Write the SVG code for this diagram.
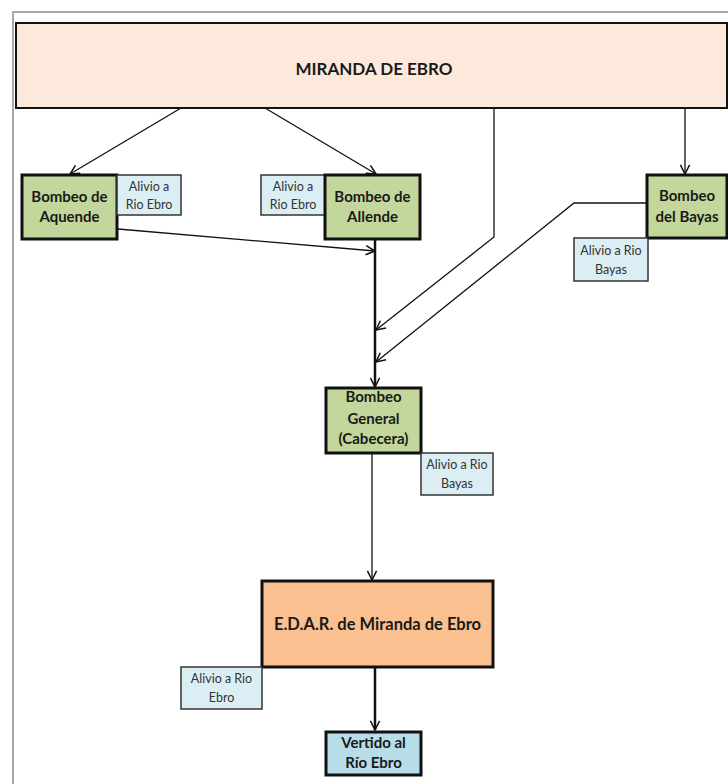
<svg xmlns="http://www.w3.org/2000/svg" width="728" height="784" viewBox="0 0 728 784">
<style>
  text { font-family: Lato, "Open Sans", "Liberation Sans", sans-serif; fill: #1a1a1a; text-anchor: middle; }
  .b { font-weight: bold; font-size: 15px; }
  .s { font-size: 12.5px; fill: #333; }
  .green { fill: #c3d69b; stroke: #111; stroke-width: 3; }
  .alivio { fill: #dbeef4; stroke: #333; stroke-width: 1.5; }
  .c { fill: none; stroke: #111; stroke-width: 1.3; }
  .ct { fill: none; stroke: #111; stroke-width: 2.5; }
</style>
<defs>
  <marker id="ah" viewBox="0 0 12 12" refX="11" refY="6" markerWidth="11" markerHeight="11" markerUnits="userSpaceOnUse" orient="auto">
    <path d="M1,1 L11,6 L1,11" fill="none" stroke="#111" stroke-width="1.6"/>
  </marker>
</defs>
<rect x="0" y="0" width="728" height="784" fill="#fff"/>
<path d="M13,784 V12 H728" fill="none" stroke="#a8a8a8" stroke-width="2"/>

<g id="connectors">
  <line class="c" x1="181" y1="108" x2="70" y2="174" marker-end="url(#ah)"/>
  <line class="c" x1="265" y1="108" x2="376" y2="174" marker-end="url(#ah)"/>
  <line class="c" x1="685" y1="108" x2="685" y2="174" marker-end="url(#ah)"/>
  <polyline class="c" points="494,108 494,237 376,330" marker-end="url(#ah)"/>
  <polyline class="c" points="647,203 574,203 376,362" marker-end="url(#ah)"/>
  <line class="c" x1="118" y1="229" x2="375" y2="251" marker-end="url(#ah)"/>
  <line class="ct" x1="375" y1="239" x2="375" y2="387" marker-end="url(#ah)"/>
  <line class="c" x1="372" y1="453" x2="372" y2="580" marker-end="url(#ah)"/>
  <line class="ct" x1="375" y1="667" x2="375" y2="730" marker-end="url(#ah)"/>
</g>

<g id="miranda">
  <rect x="16" y="23" width="711" height="85" fill="#fde9dc" stroke="#111" stroke-width="2"/>
  <text x="374" y="75" style="font-size:17px;font-weight:bold">MIRANDA DE EBRO</text>
</g>

<g id="aquende">
  <rect class="green" x="22" y="175" width="95" height="64"/>
  <text class="b" x="69.5" y="202">Bombeo de</text>
  <text class="b" x="69.5" y="222">Aquende</text>
</g>
<g id="alivio-aquende">
  <rect class="alivio" x="117" y="175" width="64" height="40"/>
  <text class="s" x="149" y="191">Alivio a</text>
  <text class="s" x="149" y="209">Rio Ebro</text>
</g>

<g id="alivio-allende">
  <rect class="alivio" x="261" y="175" width="64" height="40"/>
  <text class="s" x="293" y="191">Alivio a</text>
  <text class="s" x="293" y="209">Rio Ebro</text>
</g>
<g id="allende">
  <rect class="green" x="325" y="175" width="95" height="64"/>
  <text class="b" x="372.5" y="202">Bombeo de</text>
  <text class="b" x="372.5" y="222">Allende</text>
</g>

<g id="bayas">
  <rect class="green" x="647" y="175" width="80" height="63"/>
  <text class="b" x="687" y="201">Bombeo</text>
  <text class="b" x="687" y="222">del Bayas</text>
</g>
<g id="alivio-bayas">
  <rect class="alivio" x="574" y="238" width="74" height="43"/>
  <text class="s" x="611" y="255">Alivio a Rio</text>
  <text class="s" x="611" y="274">Bayas</text>
</g>

<g id="general">
  <rect class="green" x="326" y="388" width="95" height="65"/>
  <text class="b" x="373.5" y="402">Bombeo</text>
  <text class="b" x="373.5" y="424">General</text>
  <text class="b" x="373.5" y="444">(Cabecera)</text>
</g>
<g id="alivio-general">
  <rect class="alivio" x="421" y="453" width="72" height="42"/>
  <text class="s" x="457" y="469">Alivio a Rio</text>
  <text class="s" x="457" y="488">Bayas</text>
</g>

<g id="edar">
  <rect x="262" y="581" width="231" height="86" fill="#fac090" stroke="#111" stroke-width="3"/>
  <text x="377.5" y="630" style="font-size:16.5px;font-weight:bold">E.D.A.R. de Miranda de Ebro</text>
</g>
<g id="alivio-edar">
  <rect class="alivio" x="181" y="667" width="81" height="42"/>
  <text class="s" x="221.5" y="683">Alivio a Rio</text>
  <text class="s" x="221.5" y="702">Ebro</text>
</g>

<g id="vertido">
  <rect x="326" y="732" width="95" height="43" fill="#b7dde8" stroke="#111" stroke-width="3"/>
  <text class="b" x="373.5" y="748">Vertido al</text>
  <text class="b" x="373.5" y="768">Río Ebro</text>
</g>
</svg>
